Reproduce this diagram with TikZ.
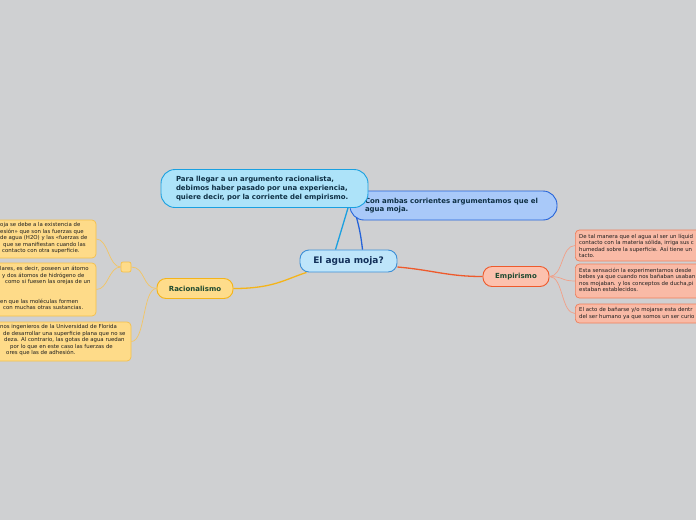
\documentclass[tikz,border=0pt]{standalone}
\usepackage{fontspec}
\setmainfont{DejaVu Sans}
\definecolor{bg}{HTML}{CFD0D2}
\definecolor{cenfill}{HTML}{BEE5FA}
\definecolor{cendraw}{HTML}{3D8FD6}
\definecolor{cyanfill}{HTML}{ADE3F9}
\definecolor{cyandraw}{HTML}{1AA0E0}
\definecolor{bluefill}{HTML}{A9C9F9}
\definecolor{bluedraw}{HTML}{2563D9}
\definecolor{racfill}{HTML}{FEDC8B}
\definecolor{racdraw}{HTML}{F4B41A}
\definecolor{empfill}{HTML}{FCC1AE}
\definecolor{empdraw}{HTML}{EE5A2C}
\definecolor{rboxfill}{HTML}{F9BAA6}
\definecolor{rboxdraw}{HTML}{EE7F5C}
\definecolor{lboxfill}{HTML}{FEDB89}
\definecolor{lboxdraw}{HTML}{F5C04A}
\definecolor{bubtext}{HTML}{0E2F44}
\definecolor{maintext}{HTML}{12305A}
\definecolor{bratext}{HTML}{1D4A30}
\definecolor{smalltext}{HTML}{1E1E1E}
\definecolor{thinorange}{HTML}{F2A088}
\definecolor{thinyellow}{HTML}{F3C563}
\tikzset{
  central/.style={draw=cendraw, fill=cenfill, line width=0.9pt, rounded corners=9pt,
    minimum width=97pt, minimum height=22pt, inner sep=0pt,
    font=\bfseries\fontsize{9}{11}\selectfont, text=maintext},
  bubble/.style={line width=0.9pt, rounded corners=14pt, inner xsep=15pt, inner ysep=0pt,
    text width=177pt, align=left, text=bubtext, font=\bfseries\fontsize{6.95}{8.7}\selectfont},
  branch/.style={line width=0.9pt, rounded corners=9pt, inner sep=0pt,
    font=\bfseries\fontsize{7}{9}\selectfont, text=bratext},
  smallbox/.style={line width=0.7pt, rounded corners=4pt, inner sep=0pt},
  smalltxt/.style={inner sep=0pt, align=left, text=smalltext,
    font=\fontsize{5.4}{6.5}\selectfont},
  thick link/.style={line width=1.3pt},
  thin link/.style={line width=0.7pt}
}
\begin{document}
\begin{tikzpicture}[x=1pt,y=-1pt]
\useasboundingbox (0,0) rectangle (696,520);
\fill[bg] (0,0) rectangle (696,520);
\clip (0,0) rectangle (696,520);

% main nodes
\node[central] (c) at (348.5,261) {El agua moja?};
\node[bubble, draw=bluedraw, fill=bluefill, minimum width=207pt, minimum height=29pt] (b2) at (453.5,205.5)
  {Con ambas corrientes argumentamos que el\\agua moja.};
\node[bubble, draw=cyandraw, fill=cyanfill, minimum width=207pt, minimum height=38pt] (b1) at (264.5,188.5)
  {Para llegar a un argumento racionalista,\\debimos haber pasado por una experiencia,\\quiere decir, por la corriente del empirismo.};
\node[branch, draw=racdraw, fill=racfill, minimum width=76pt, minimum height=20pt] (rac) at (195,288.5) {Racionalismo};
\node[branch, draw=empdraw, fill=empfill, minimum width=66pt, minimum height=20pt] (emp) at (516,276.5) {Empirismo};

% connectors from center
\draw[thick link, cyandraw] ([xshift=-13pt]c.north) -- ([xshift=83.5pt]b1.south);
\draw[thick link, bluedraw] ([xshift=14pt]c.north) to[bend right=4] ([xshift=7pt,yshift=3pt]b2.south west);
\draw[thick link, racdraw] (rac.east) .. controls +(40,0) and +(-22,7) .. ([xshift=7pt]c.south west);
\draw[thick link, empdraw] ([yshift=-6pt]c.east) .. controls +(35,3) and +(-35,0) .. (emp.west);

% left side
\node[smallbox, draw=lboxdraw, fill=lboxfill, minimum width=10pt, minimum height=10pt, rounded corners=2pt] (sq) at (126,267) {};
\node[smallbox, draw=lboxdraw, fill=lboxfill, minimum width=130pt, minimum height=38pt] (l1) at (31,239) {};
\node[smallbox, draw=lboxdraw, fill=lboxfill, minimum width=130pt, minimum height=53pt] (l2) at (31,289.5) {};
\node[smallbox, draw=lboxdraw, fill=lboxfill, minimum width=170pt, minimum height=39pt] (l3) at (46,341.5) {};

\node[smalltxt, anchor=north west] (l1t) at (0,222.3)
  {oja se debe a la existencia de\\
   esión» que son las fuerzas que\\
   de agua (H2O) y las «fuerzas de\\
   \hspace*{3pt}que se manifiestan cuando las\\
   \hspace*{2pt}contacto con otra superficie.};
\node[smalltxt, anchor=north west] (l2t) at (0,266.3)
  {lares, es decir, poseen un átomo\\
   \hspace*{2pt}y dos átomos de hidrógeno de\\
   \hspace*{5pt}como si fuesen las orejas de un\\
   \mbox{}\\
   \mbox{}\\
   en que las moléculas formen\\
   \hspace*{3pt}con muchas otras sustancias.};
\node[smalltxt, anchor=north west] (l3t) at (0,324.3)
  {nos ingenieros de la Universidad de Florida\\
   \hspace*{3pt}de desarrollar una superficie plana que no se\\
   \hspace*{4pt}deza. Al contrario, las gotas de agua ruedan\\
   \hspace*{10pt}por lo que en este caso las fuerzas de\\
   \hspace*{6pt}ores que las de adhesión.};

\draw[thin link, thinyellow] (rac.west) .. controls +(-14,0) and +(14,0) .. (sq.east);
\draw[thin link, thinyellow] (rac.west) .. controls +(-14,0) and +(14,0) .. (l3.east);
\draw[thin link, thinyellow] (sq.west) .. controls +(-12,0) and +(12,0) .. (l1.east);
\draw[thin link, thinyellow] (sq.west) .. controls +(-12,0) and +(12,0) .. (l2.east);

% right side
\node[smallbox, draw=rboxdraw, fill=rboxfill, minimum width=160pt, minimum height=31pt, anchor=west] (r1) at (575,245.5) {};
\node[smallbox, draw=rboxdraw, fill=rboxfill, minimum width=160pt, minimum height=34pt, anchor=west] (r2) at (575,281) {};
\node[smallbox, draw=rboxdraw, fill=rboxfill, minimum width=160pt, minimum height=19pt, anchor=west] (r3) at (575,313.5) {};

\node[smalltxt, anchor=north west] (r1t) at (579,233.8)
  {De tal manera que el agua al ser un líquid\\
   contacto con la materia sólida, irriga sus c\\
   humedad sobre la superficie. Así tiene un\\
   tacto.};
\node[smalltxt, anchor=north west] (r2t) at (579,267.8)
  {Esta sensación la experimentamos desde \\
   bebes ya que cuando nos bañaban usaban\\
   nos mojaban. y los conceptos de ducha,pi\\
   estaban establecidos.};
\node[smalltxt, anchor=north west] (r3t) at (579,307.3)
  {El acto de bañarse y/o mojarse esta dentr\\
   del ser humano ya que somos un ser curio};

\draw[thin link, thinorange] (emp.east) .. controls +(14,0) and +(-14,0) .. (r1.west);
\draw[thin link, thinorange] (emp.east) .. controls +(14,0) and +(-14,0) .. (r2.west);
\draw[thin link, thinorange] (emp.east) .. controls +(14,0) and +(-14,0) .. (r3.west);
\end{tikzpicture}
\end{document}
